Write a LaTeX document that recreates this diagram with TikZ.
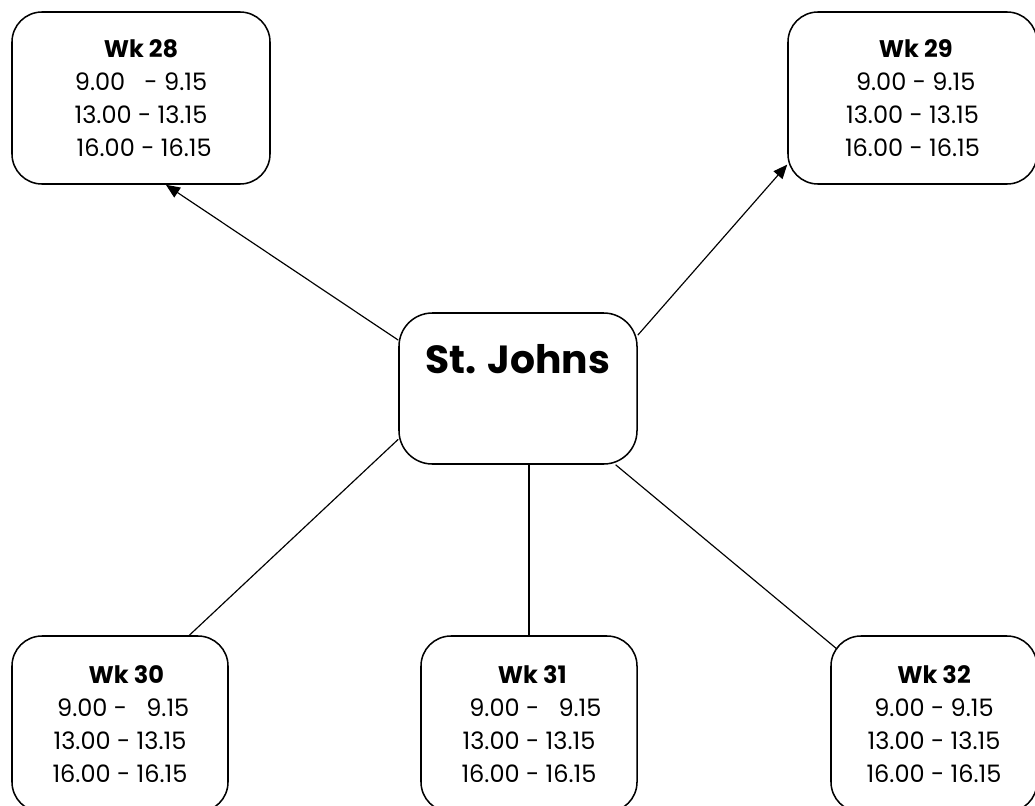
\documentclass[tikz,border=0pt]{standalone}
\usepackage{fontspec}
\setmainfont{Poppins}
\usetikzlibrary{arrows.meta,calc}

\tikzset{
 wkbox/.style={draw=black, line width=1.3pt, fill=white, rounded corners=0.9cm,
   minimum height=5.16cm, align=center, inner sep=0pt,
   font=\fontsize{20.5}{28}\selectfont},
 hubbox/.style={draw=black, line width=1.3pt, fill=white, rounded corners=1cm,
   minimum width=7.14cm, minimum height=4.53cm, inner sep=0pt,
   text depth=1.8cm, font=\fontsize{33.5}{38}\selectfont\bfseries},
 conn/.style={draw=black, line width=1pt},
 tip/.style={-{Triangle[length=12pt,width=10pt]}}
}

\begin{document}
\begin{tikzpicture}[x=0.03cm,y=-0.03cm]

 \useasboundingbox (0,0) rectangle (1035,805);

 \node[hubbox] (cen) at (518,388.5) {St. Johns};

 \node[wkbox, minimum width=7.74cm] (w28) at (141,98)
   {\textbf{Wk 28}\\9.00\ \ \ - 9.15\\13.00 - 13.15\\\ 16.00 - 16.15};
 \node[wkbox, minimum width=7.47cm] (w29) at (912.5,98)
   {\ \textbf{Wk 29}\\\ 9.00 - 9.15\\13.00 - 13.15\\16.00 - 16.15};

 \node[wkbox, minimum width=6.48cm, minimum height=5.28cm] (w30) at (120,724)
   {\ \ \textbf{Wk 30}\\\ 9.00 -\ \ \ 9.15\\13.00 - 13.15\\16.00 - 16.15};
 \node[wkbox, minimum width=6.48cm, minimum height=5.28cm] (w31) at (529,724)
   {\ \textbf{Wk 31}\\\ \ 9.00 -\ \ \ 9.15\\13.00 - 13.15\\16.00 - 16.15};
 \node[wkbox, minimum width=6.18cm, minimum height=5.28cm] (w32) at (934,724)
   {\textbf{Wk 32}\\9.00 - 9.15\\13.00 - 13.15\\16.00 - 16.15};

 % upper links carry arrows
 \draw[conn,tip] (cen.158) -- (w28.286);
 \draw[conn,tip] (cen.24) -- (w29.208);

 \draw[conn] (cen.203) -- (w30.52);
 \draw[conn] (cen.south -| w31.north) -- (w31.north);
 \draw[conn] (cen.322) -- ($(w32.north west)+(7,14)$);

\end{tikzpicture}
\end{document}
